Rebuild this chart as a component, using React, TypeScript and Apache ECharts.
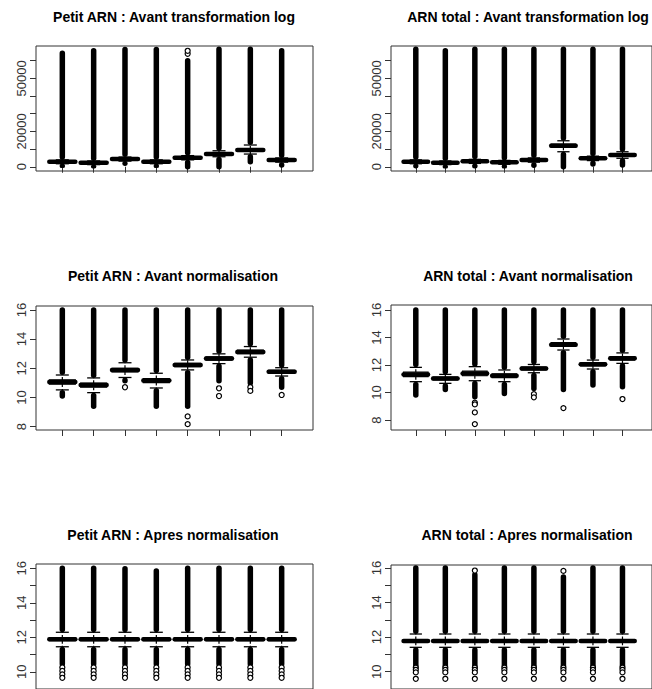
import React, { useEffect, useRef } from "react";
import * as echarts from "echarts";

// Box statistics per sample: [lo, whiskerLow, q1, median, q3, whiskerHigh, hi]
// lo/hi are the ends of the dense run of outlier points.
const petitRawStats: number[][] = [
  [800, 1700, 2500, 2830, 3200, 3900, 64200],
  [600, 1200, 1900, 2260, 2600, 3300, 65600],
  [2000, 3200, 3900, 4360, 4800, 5500, 66300],
  [800, 1700, 2400, 2830, 3200, 3900, 66300],
  [0, 3900, 4600, 5100, 5600, 6300, 60000],
  [0, 5660, 6600, 7190, 7800, 9050, 66400],
  [2830, 7190, 8800, 9450, 10100, 12300, 66400],
  [1000, 2600, 3300, 3790, 4300, 5000, 65600],
];
const totalRawStats: number[][] = [
  [600, 1700, 2400, 2830, 3200, 3900, 66400],
  [500, 1200, 1900, 2260, 2600, 3300, 65600],
  [600, 1900, 2600, 3050, 3500, 4200, 66400],
  [500, 1400, 2100, 2490, 2900, 3600, 66400],
  [800, 2600, 3300, 3790, 4300, 5000, 66400],
  [0, 8490, 11000, 11900, 12800, 14700, 66400],
  [1500, 3500, 4200, 4750, 5300, 6000, 66400],
  [1000, 4800, 6000, 6620, 7200, 8490, 66400],
];
const petitLogStats: number[][] = [
  [10.1, 10.52, 10.92, 11.06, 11.2, 11.54, 16.0],
  [9.4, 10.33, 10.7, 10.85, 10.98, 11.34, 16.0],
  [11.14, 11.37, 11.75, 11.88, 12.0, 12.38, 16.0],
  [9.4, 10.65, 11.02, 11.16, 11.3, 11.66, 16.0],
  [9.4, 11.89, 12.12, 12.23, 12.34, 12.57, 16.0],
  [11.14, 12.32, 12.56, 12.67, 12.78, 12.99, 16.0],
  [11.0, 12.76, 13.0, 13.12, 13.24, 13.49, 16.0],
  [10.7, 11.47, 11.67, 11.77, 11.86, 12.04, 16.0],
];
const totalLogStats: number[][] = [
  [9.82, 10.79, 11.15, 11.32, 11.48, 11.83, 16.0],
  [10.23, 10.67, 10.92, 11.03, 11.12, 11.32, 16.0],
  [9.7, 10.86, 11.22, 11.39, 11.55, 11.88, 16.0],
  [9.94, 10.79, 11.08, 11.22, 11.36, 11.64, 16.0],
  [10.3, 11.44, 11.64, 11.75, 11.85, 12.04, 16.0],
  [10.23, 13.09, 13.35, 13.48, 13.62, 13.89, 16.0],
  [10.55, 11.71, 11.94, 12.05, 12.14, 12.36, 16.0],
  [10.43, 12.12, 12.36, 12.49, 12.62, 12.88, 16.0],
];
const petitNormStats: number[][] = [
  [10.45, 11.45, 11.8, 11.88, 11.96, 12.29, 16.0],
  [10.45, 11.45, 11.8, 11.88, 11.96, 12.29, 16.0],
  [10.45, 11.45, 11.8, 11.88, 11.96, 12.29, 15.98],
  [10.45, 11.45, 11.8, 11.88, 11.96, 12.29, 15.84],
  [10.45, 11.45, 11.8, 11.88, 11.96, 12.29, 16.0],
  [10.45, 11.45, 11.8, 11.88, 11.96, 12.29, 16.0],
  [10.45, 11.45, 11.8, 11.88, 11.96, 12.29, 16.0],
  [10.45, 11.45, 11.8, 11.88, 11.96, 12.29, 16.0],
];
const totalNormStats: number[][] = [
  [10.33, 11.41, 11.7, 11.78, 11.86, 12.18, 16.0],
  [10.33, 11.41, 11.7, 11.78, 11.86, 12.18, 16.0],
  [10.33, 11.41, 11.7, 11.78, 11.86, 12.18, 15.6],
  [10.33, 11.41, 11.7, 11.78, 11.86, 12.18, 16.0],
  [10.33, 11.41, 11.7, 11.78, 11.86, 12.18, 16.0],
  [10.33, 11.41, 11.7, 11.78, 11.86, 12.18, 15.48],
  [10.33, 11.41, 11.7, 11.78, 11.86, 12.18, 16.0],
  [10.33, 11.41, 11.7, 11.78, 11.86, 12.18, 16.0],
];

// Isolated outlier points: [sample, value]
const petitRawOutliers: number[][] = [[5, 63900], [5, 65600]];
const totalRawOutliers: number[][] = [];
const petitLogOutliers: number[][] = [
  [3, 10.7], [5, 8.7], [5, 8.17], [6, 10.63], [6, 10.1], [7, 10.7], [7, 10.45], [8, 10.17],
];
const totalLogOutliers: number[][] = [
  [3, 9.26], [3, 9.14], [3, 8.56], [3, 7.71], [5, 9.89], [5, 9.65], [6, 8.87], [8, 9.53],
];
const petitNormOutliers: number[][] = [
  [1, 10.25], [1, 10.05], [1, 9.85], [1, 9.65],
  [2, 10.25], [2, 10.05], [2, 9.85], [2, 9.65],
  [3, 10.25], [3, 10.05], [3, 9.85], [3, 9.65],
  [4, 10.25], [4, 10.05], [4, 9.85], [4, 9.65],
  [5, 10.25], [5, 10.05], [5, 9.85], [5, 9.65],
  [6, 10.25], [6, 10.05], [6, 9.85], [6, 9.65],
  [7, 10.25], [7, 10.05], [7, 9.85], [7, 9.65],
  [8, 10.25], [8, 10.05], [8, 9.85], [8, 9.65],
];
const totalNormOutliers: number[][] = [
  [1, 10.24], [1, 10.11], [1, 9.96], [1, 9.59],
  [2, 10.24], [2, 10.11], [2, 9.96], [2, 9.59],
  [3, 10.24], [3, 10.11], [3, 9.96], [3, 9.59], [3, 15.85],
  [4, 10.24], [4, 10.11], [4, 9.96], [4, 9.59],
  [5, 10.24], [5, 10.11], [5, 9.96], [5, 9.59],
  [6, 10.24], [6, 10.11], [6, 9.96], [6, 9.59], [6, 15.83],
  [7, 10.24], [7, 10.11], [7, 9.96], [7, 9.59],
  [8, 10.24], [8, 10.11], [8, 9.96], [8, 9.59],
];

const samples = [1, 2, 3, 4, 5, 6, 7, 8];
const rawTicks = [0, 10000, 20000, 30000, 40000, 50000, 60000];
const rawLabels = [0, 20000, 50000];
const logTicks = [8, 10, 12, 14, 16];
const normTicks = [10, 11, 12, 13, 14, 15, 16];
const normLabels = [10, 12, 14, 16];

const titles = [
  "Petit ARN : Avant transformation log",
  "ARN total : Avant transformation log",
  "Petit ARN : Avant normalisation",
  "ARN total : Avant normalisation",
  "Petit ARN : Apres normalisation",
  "ARN total : Apres normalisation",
];

const FONT = "'Liberation Sans', Arial, Helvetica, sans-serif";

const panels = [
  { stats: petitRawStats, out: petitRawOutliers, ticks: rawTicks, labels: rawLabels, yMin: -2400, yMax: 68300,
    grid: { left: 36, top: 46, width: 277, height: 125 }, title: [174, 17] },
  { stats: totalRawStats, out: totalRawOutliers, ticks: rawTicks, labels: rawLabels, yMin: -2400, yMax: 68300,
    grid: { left: 391, top: 46, width: 277, height: 125 }, title: [528, 17] },
  { stats: petitLogStats, out: petitLogOutliers, ticks: logTicks, labels: logTicks, yMin: 7.77, yMax: 16.27,
    grid: { left: 36, top: 306, width: 277, height: 124 }, title: [173, 276] },
  { stats: totalLogStats, out: totalLogOutliers, ticks: logTicks, labels: logTicks, yMin: 7.28, yMax: 16.36,
    grid: { left: 391, top: 305, width: 277, height: 125 }, title: [528, 276] },
  { stats: petitNormStats, out: petitNormOutliers, ticks: normTicks, labels: normLabels, yMin: 9.0, yMax: 16.25,
    grid: { left: 36, top: 564, width: 277, height: 135 }, title: [173, 535] },
  { stats: totalNormStats, out: totalNormOutliers, ticks: normTicks, labels: normLabels, yMin: 9.0, yMax: 16.17,
    grid: { left: 391, top: 565, width: 277, height: 129 }, title: [527, 535] },
];

const renderBox = (params: any, api: any) => {
  const x = api.value(0);
  const lo = api.value(1), wLo = api.value(2), q1 = api.value(3), med = api.value(4);
  const q3 = api.value(5), wHi = api.value(6), hi = api.value(7);
  const px = api.coord([x, med])[0];
  const Y = (v: number) => api.coord([x, v])[1];
  const bw = api.size([0.83, 0])[0];
  const sw = bw / 2;
  const cw = 5.5;
  const black = "#000";
  const children: any[] = [];
  // dense upper outlier column
  children.push({
    type: "rect",
    shape: { x: px - cw / 2, y: Y(hi) - cw / 2, width: cw, height: Y(wHi) - Y(hi) + cw / 2, r: cw / 2 },
    style: { fill: black },
  });
  if (lo < wLo) {
    children.push({
      type: "rect",
      shape: { x: px - cw / 2, y: Y(wLo), width: cw, height: Y(lo) - Y(wLo) + cw / 2, r: cw / 2 },
      style: { fill: black },
    });
  }
  // whiskers
  children.push({
    type: "line",
    shape: { x1: px, y1: Y(q3), x2: px, y2: Y(wHi) },
    style: { stroke: black, lineWidth: 1.2, lineDash: [3, 2] },
  });
  children.push({
    type: "line",
    shape: { x1: px, y1: Y(q1), x2: px, y2: Y(wLo) },
    style: { stroke: black, lineWidth: 1.2, lineDash: [3, 2] },
  });
  // staples
  children.push({
    type: "line",
    shape: { x1: px - sw / 2, y1: Y(wHi), x2: px + sw / 2, y2: Y(wHi) },
    style: { stroke: black, lineWidth: 1.3 },
  });
  children.push({
    type: "line",
    shape: { x1: px - sw / 2, y1: Y(wLo), x2: px + sw / 2, y2: Y(wLo) },
    style: { stroke: black, lineWidth: 1.3 },
  });
  // box
  children.push({
    type: "rect",
    shape: { x: px - bw / 2, y: Y(q3), width: bw, height: Y(q1) - Y(q3) },
    style: { fill: "#fff", stroke: black, lineWidth: 1.2 },
  });
  // median
  children.push({
    type: "line",
    shape: { x1: px - bw / 2, y1: Y(med), x2: px + bw / 2, y2: Y(med) },
    style: { stroke: black, lineWidth: 4.5, lineCap: "round" },
  });
  return { type: "group", children };
};

export default function App() {
  const ref = useRef<HTMLDivElement>(null);
  useEffect(() => {
    document.body.style.margin = "0";
    if (!ref.current) return;
    const chart = echarts.init(ref.current, undefined, { renderer: "svg" });
    const grids: any[] = [];
    const xAxes: any[] = [];
    const yAxes: any[] = [];
    const series: any[] = [];
    const graphics: any[] = [];
    panels.forEach((p, i) => {
      grids.push({ ...p.grid, show: true, borderColor: "#333", borderWidth: 1, containLabel: false });
      xAxes.push({
        type: "value",
        gridIndex: i,
        min: 0.16,
        max: 9.0,
        axisLine: { show: false },
        axisTick: { show: true, customValues: samples, length: 6, lineStyle: { color: "#333", width: 1 } },
        axisLabel: { show: false },
        splitLine: { show: false },
      });
      yAxes.push({
        type: "value",
        gridIndex: i,
        min: p.yMin,
        max: p.yMax,
        axisLine: { show: false },
        axisTick: { show: true, customValues: p.ticks, length: 6, lineStyle: { color: "#333", width: 1 } },
        axisLabel: {
          show: true,
          customValues: p.labels,
          formatter: (v: number) => String(v),
          rotate: 90,
          margin: 8,
          fontSize: 13,
          color: "#333",
          fontFamily: FONT,
        },
        splitLine: { show: false },
      });
      series.push({
        type: "custom",
        xAxisIndex: i,
        yAxisIndex: i,
        clip: true,
        renderItem: renderBox,
        encode: { x: 0, y: [1, 2, 3, 4, 5, 6, 7] },
        data: p.stats.map((s, k) => [samples[k], ...s]),
        silent: true,
      });
      series.push({
        type: "scatter",
        xAxisIndex: i,
        yAxisIndex: i,
        symbol: "circle",
        symbolSize: 5,
        clip: true,
        itemStyle: { color: "#fff", borderColor: "#000", borderWidth: 1.2, opacity: 1 },
        data: p.out,
        silent: true,
      });
      graphics.push({
        type: "text",
        x: p.title[0],
        y: p.title[1],
        style: {
          text: titles[i],
          fontSize: 14,
          fontWeight: "bold",
          fontFamily: FONT,
          fill: "#000",
          textAlign: "center",
          textVerticalAlign: "middle",
          align: "center",
          verticalAlign: "middle",
        },
      });
    });
    chart.setOption({
      animation: false,
      backgroundColor: "#fff",
      grid: grids,
      xAxis: xAxes,
      yAxis: yAxes,
      series,
      graphic: graphics,
    });
    return () => chart.dispose();
  }, []);
  return <div ref={ref} style={{ width: 652, height: 689 }} />;
}
